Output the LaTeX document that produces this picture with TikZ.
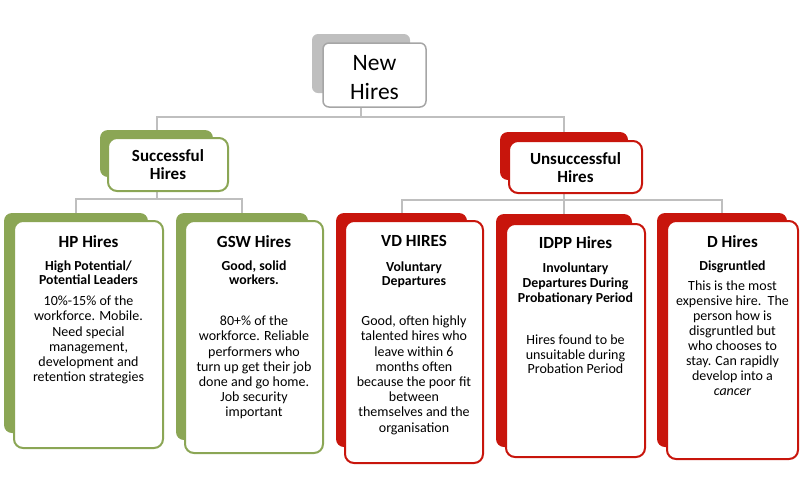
\documentclass[tikz,border=0pt]{standalone}
\usepackage{fontspec}
\setmainfont{Carlito}
\usetikzlibrary{backgrounds}
\definecolor{hgreen}{HTML}{8BA655}
\definecolor{hred}{HTML}{C8150C}
\definecolor{hgrayback}{HTML}{BFBFBF}
\definecolor{hgrayline}{HTML}{A6A6A6}
\definecolor{hconn}{HTML}{BFBFBF}
\begin{document}
\begin{tikzpicture}[x=1pt,y=-1pt,
  backbox/.style={rounded corners=8pt, inner sep=0pt, outer sep=0pt},
  frontbox/.style={fill=white, line width=2pt, rounded corners=9pt, inner sep=0pt, outer sep=0pt},
  gback/.style={backbox, fill=hgreen},
  rback/.style={backbox, fill=hred},
  kback/.style={backbox, fill=hgrayback, rounded corners=6pt},
  gfront/.style={frontbox, draw=hgreen},
  rfront/.style={frontbox, draw=hred},
  kfront/.style={frontbox, draw=hgrayline, line width=1.5pt, rounded corners=6pt},
  conn/.style={draw=hconn, line width=2pt},
  cardttl/.style={font=\fontsize{17}{18}\selectfont\bfseries, anchor=base, inner sep=0pt},
  cardsub/.style={font=\fontsize{13.8}{14.5}\selectfont\bfseries, align=center, anchor=north, inner sep=0pt},
  cardbody/.style={font=\fontsize{14}{15.2}\selectfont, align=center, anchor=north, inner sep=0pt},
  headtxt/.style={font=\fontsize{17}{17.5}\selectfont\bfseries, align=center, anchor=north, inner sep=0pt}
]
\useasboundingbox (0,0) rectangle (800,496);

% back shapes
\node[kback, minimum width=98pt, minimum height=59pt] (newb) at (361,63.5) {};
\node[gback, minimum width=113pt, minimum height=47pt] (sb) at (156.5,153.5) {};
\node[rback, minimum width=128pt, minimum height=48pt] (ub) at (564,156) {};
\node[gback, minimum width=144pt, minimum height=220pt] (hpb) at (76,323) {};
\node[gback, minimum width=132pt, minimum height=227pt] (gswb) at (242,326.5) {};
\node[rback, minimum width=131pt, minimum height=234pt] (vdb) at (401.5,330) {};
\node[rback, minimum width=136pt, minimum height=233pt] (idb) at (564,330.5) {};
\node[rback, minimum width=130pt, minimum height=234pt] (db) at (722,330) {};

% front shapes
\node[kfront, minimum width=103pt, minimum height=64pt] (newf) at (374.5,75) {};
\node[gfront, minimum width=120pt, minimum height=53pt] (sf) at (168,164.5) {};
\node[rfront, minimum width=133pt, minimum height=52pt] (uf) at (575.5,167) {};
\node[gfront, minimum width=149pt, minimum height=227pt] (hpf) at (88.5,334.5) {};
\node[gfront, minimum width=138pt, minimum height=232pt] (gswf) at (254,337) {};
\node[rfront, minimum width=138pt, minimum height=242pt] (vdf) at (414,342) {};
\node[rfront, minimum width=139pt, minimum height=233pt] (idf) at (575.5,340.5) {};
\node[rfront, minimum width=131pt, minimum height=238pt] (df) at (732.5,340) {};

% connectors
\coordinate (j1) at (361,117);
\coordinate (j2) at (156.5,199);
\coordinate (j3) at (564,200);
\begin{scope}[on background layer]
\draw[conn] (newb.south) -- (j1) -| (sb.north);
\draw[conn] (j1) -| (ub.north);
\draw[conn] (sb.south) -- (j2) -| (hpb.north);
\draw[conn] (j2) -| (gswb.north);
\draw[conn] (ub.south) -- (j3) -| (vdb.north);
\draw[conn] (j3) -- (idb.north);
\draw[conn] (j3) -| (db.north);
\end{scope}

% heading texts
\node[font=\fontsize{23.5}{29}\selectfont, align=center, anchor=north, inner sep=0pt] (newt) at (374.5,52.6) {\rule{0pt}{18pt}New\\Hires};
\node[headtxt] (st) at (168,148.5) {\rule{0pt}{13pt}Successful\\Hires};
\node[headtxt] (ut) at (575.5,151.5) {\rule{0pt}{13pt}Unsuccessful\\Hires};

% HP
\node[cardttl] (hpt) at (88.5,247.5) {HP Hires};
\node[cardsub] (hps) at (88.5,259) {\rule{0pt}{11pt}High Potential/\\Potential Leaders};
\node[cardbody] (hpx) at (88.5,294.5) {\rule{0pt}{11pt}10\%-15\% of the\\workforce. Mobile.\\Need special\\management,\\development and\\retention strategies};

% GSW
\node[cardttl] (gswt) at (254,247.5) {GSW Hires};
\node[cardsub] (gsws) at (254,259) {\rule{0pt}{11pt}Good, solid\\workers.};
\node[cardbody] (gswx) at (254,314.5) {\rule{0pt}{11pt}80+\% of the\\workforce. Reliable\\performers who\\turn up get their job\\done and go home.\\Job security\\important};

% VD
\node[cardttl] (vdt) at (414,246.5) {VD HIRES};
\node[cardsub] (vds) at (414,260) {\rule{0pt}{11pt}Voluntary\\Departures};
\node[cardbody] (vdx) at (414,314.5) {\rule{0pt}{11pt}Good, often highly\\talented hires who\\leave within 6\\months often\\because the poor fit\\between\\themselves and the\\organisation};

% IDPP
\node[cardttl] (idt) at (575.5,248.5) {IDPP Hires};
\node[cardsub, font=\fontsize{13.8}{15}\selectfont\bfseries] (ids) at (575.5,261) {\rule{0pt}{11pt}Involuntary\\Departures During\\Probationary Period};
\node[cardbody, font=\fontsize{14}{14.5}\selectfont] (idx) at (575.5,333.5) {\rule{0pt}{11pt}Hires found to be\\unsuitable during\\Probation Period};

% D
\node[cardttl] (dt) at (732.5,247.5) {D Hires};
\node[cardsub] (ds) at (732.5,259) {\rule{0pt}{11pt}Disgruntled};
\node[cardbody, font=\fontsize{14}{15}\selectfont] (dx) at (732.5,279.5) {\rule{0pt}{11pt}This is the most\\expensive hire.\ \ The\\person how is\\disgruntled but\\who chooses to\\stay. Can rapidly\\develop into a\\\textit{cancer}};
\end{tikzpicture}
\end{document}
